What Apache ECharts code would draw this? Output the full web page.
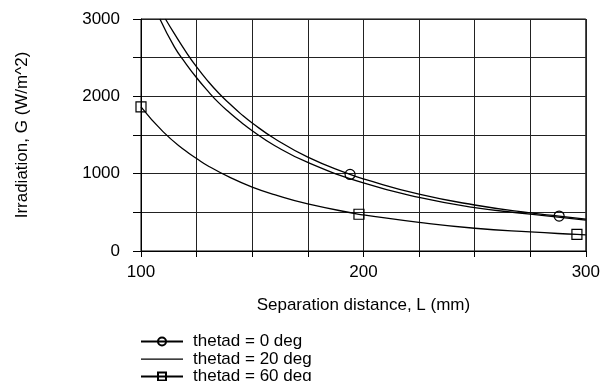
<!DOCTYPE html>
<html>
<head>
<meta charset="utf-8">
<script src="https://cdn.jsdelivr.net/npm/echarts@6/dist/echarts.min.js"></script>
<style>html,body{margin:0;padding:0;background:#fff}#c{width:603px;height:381px}</style>
</head>
<body>
<div id="c"></div>
<script>
var seriesNames = ['thetad = 0 deg', 'thetad = 20 deg', 'thetad = 60 deg'];
var L0 = [111, 115, 120, 125, 130, 135, 140, 145, 150, 160, 175, 194, 200, 225, 250, 275, 288, 300];
var G0 = [3000, 2810, 2585, 2380, 2200, 2040, 1900, 1770, 1655, 1455, 1215, 990, 932, 735, 595, 492, 452, 413];
var M0 = [194, 288];
var L20 = [108.5, 115, 120, 125, 130, 135, 140, 145, 150, 160, 175, 200, 225, 250, 275, 300];
var G20 = [3000, 2640, 2430, 2240, 2070, 1915, 1785, 1665, 1555, 1365, 1145, 880, 692, 560, 478, 398];
var L60 = [100, 110, 120, 125, 130, 140, 150, 160, 175, 198, 200, 225, 250, 275, 296, 300];
var G60 = [1864, 1540, 1295, 1196, 1103, 951, 826, 728, 608, 475, 466, 370, 294, 246, 214, 208];
var M60 = [100, 198, 296];
var xTicksShown = [100, 200, 300];
var yTicksShown = [0, 1000, 2000, 3000];

function build(L, G, marks) {
  return L.map(function (x, i) {
    var item = { value: [x, G[i]] };
    if (marks.indexOf(x) < 0) item.symbol = 'none';
    return item;
  });
}

var chart = echarts.init(document.getElementById('c'), null, { renderer: 'canvas' });
var font = 'Liberation Sans, Arial, sans-serif';
var fs = 17;
var lineStyle = { color: '#000', width: 1.3 };
var plainLineIcon = 'path://M0,0h0.01v0.01h-0.01z M0,4.4h42v1.3h-42z M0,9.99h0.01v0.01h-0.01z';
chart.setOption({
  animation: false,
  backgroundColor: '#fff',
  textStyle: { fontFamily: font, color: '#000' },
  grid: { left: 141, right: 14, top: 19, bottom: 130, show: true, borderColor: '#000', borderWidth: 1 },
  xAxis: {
    type: 'value', min: 100, max: 300, interval: 25,
    name: 'Separation distance, L (mm)', nameLocation: 'middle', nameGap: 46,
    nameTextStyle: { fontSize: fs, color: '#000', fontFamily: font },
    axisLine: { lineStyle: { color: '#000', width: 1 } },
    axisTick: { show: true, length: 6, lineStyle: { color: '#000' } },
    axisLabel: { fontSize: fs, color: '#000', margin: 13, fontFamily: font,
      formatter: function (v) { return xTicksShown.indexOf(v) >= 0 ? String(v) : ''; } },
    splitLine: { show: true, lineStyle: { color: '#222', width: 1 } }
  },
  yAxis: {
    type: 'value', min: 0, max: 3000, interval: 500,
    name: 'Irradiation, G (W/m^2)', nameLocation: 'middle', nameGap: 110,
    nameTextStyle: { fontSize: fs, color: '#000', fontFamily: font },
    axisLine: { lineStyle: { color: '#000', width: 1 } },
    axisTick: { show: true, length: 8, lineStyle: { color: '#000' } },
    axisLabel: { fontSize: fs, color: '#000', margin: 21, fontFamily: font,
      formatter: function (v) { return yTicksShown.indexOf(v) >= 0 ? String(v) : ''; } },
    splitLine: { show: true, lineStyle: { color: '#222', width: 1 } }
  },
  legend: {
    orient: 'vertical', left: 140, top: 333, padding: 0, height: 60,
    itemWidth: 42, itemHeight: 10, itemGap: 0.5,
    textStyle: { fontSize: fs, color: '#000', fontFamily: font, lineHeight: 15, padding: [0, 0, 0, 5] },
    data: [
      { name: seriesNames[0] },
      { name: seriesNames[1], icon: plainLineIcon },
      { name: seriesNames[2] }
    ]
  },
  series: [
    { name: seriesNames[0], type: 'line', symbol: 'circle', symbolSize: 10, smooth: 0.5,
      showAllSymbol: true, clip: true,
      itemStyle: { color: 'rgba(255,255,255,0)', borderColor: '#000', borderWidth: 1.2 },
      lineStyle: lineStyle, data: build(L0, G0, M0) },
    { name: seriesNames[1], type: 'line', symbol: 'none', smooth: 0.5, clip: true,
      itemStyle: { color: '#000' }, lineStyle: lineStyle,
      data: L20.map(function (x, i) { return [x, G20[i]]; }) },
    { name: seriesNames[2], type: 'line', symbol: 'rect', symbolSize: 10, smooth: 0.5,
      showAllSymbol: true, clip: true,
      itemStyle: { color: 'rgba(255,255,255,0)', borderColor: '#000', borderWidth: 1.2 },
      lineStyle: lineStyle, data: build(L60, G60, M60) }
  ]
});
</script>
</body>
</html>
